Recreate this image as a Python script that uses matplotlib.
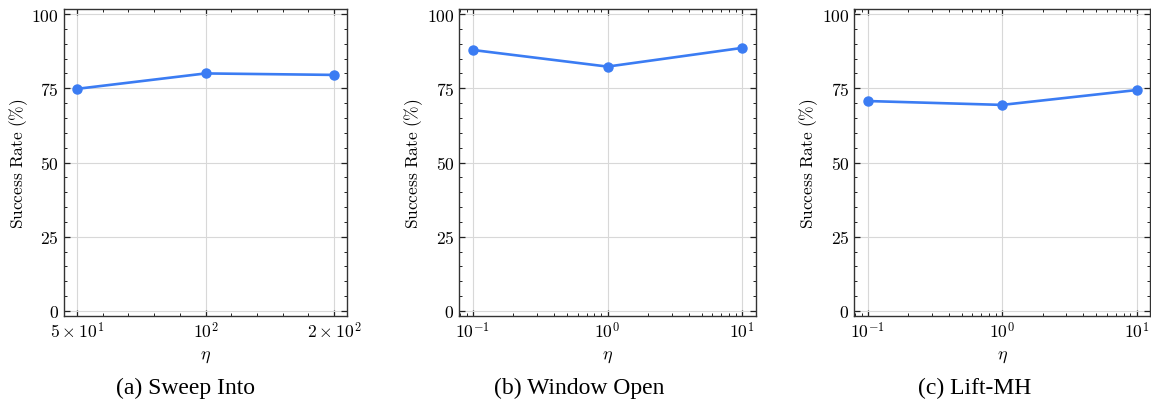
import numpy as np
import matplotlib
matplotlib.use("Agg")
import matplotlib.pyplot as plt
from matplotlib.ticker import FixedLocator, MultipleLocator, NullFormatter

plt.rcParams["mathtext.fontset"] = "cm"
plt.rcParams["font.family"] = "serif"
plt.rcParams["font.serif"] = ["Liberation Serif", "DejaVu Serif"]

# data
eta_a = [50, 100, 200]
sr_a = [74.8, 80.0, 79.5]
eta_b = [0.1, 1, 10]
sr_b = [87.9, 82.3, 88.6]
eta_c = [0.1, 1, 10]
sr_c = [70.7, 69.4, 74.4]

xticklabels_a = [r"$5\times10^{1}$", r"$10^{2}$", r"$2\times10^{2}$"]
xticklabels_bc = [r"$10^{-1}$", r"$10^{0}$", r"$10^{1}$"]
yticks = [0, 25, 50, 75, 100]
captions = ["(a) Sweep Into", "(b) Window Open", "(c) Lift-MH"]

color = "#3b7cf3"
W, H = 1151, 402
fig = plt.figure(figsize=(W / 100, H / 100), dpi=100)

# axes boxes in pixels: left, right, top, bottom
boxes = [(64, 347, 10, 317), (459.3, 755.7, 10, 317), (854.3, 1150, 10, 317)]
cap_x = [185, 579, 975]

panels = [(eta_a, sr_a, xticklabels_a), (eta_b, sr_b, xticklabels_bc), (eta_c, sr_c, xticklabels_bc)]

for i, (x, y, xtl) in enumerate(panels):
    l, r, t, b = boxes[i]
    ax = fig.add_axes([l / W, (H - b) / H, (r - l) / W, (b - t) / H])
    ax.plot(x, y, color=color, lw=1.9, marker="o", ms=6.5, zorder=3)
    ax.set_xscale("log")
    ax.set_xticks(x)
    ax.set_xticklabels(xtl)
    if i == 0:
        ax.xaxis.set_minor_locator(FixedLocator([50 * 2 ** (k / 5) for k in range(-1, 12) if k % 5]))
    ax.xaxis.set_minor_formatter(NullFormatter())
    ax.set_ylim(-1.7, 101.7)
    ax.set_yticks(yticks)
    ax.set_yticklabels([f"${v}$" for v in yticks])
    ax.yaxis.set_minor_locator(MultipleLocator(5))
    ax.grid(True, which="major", color="#d8d8d8", lw=0.8, zorder=0)
    ax.set_axisbelow(True)
    ax.tick_params(which="both", direction="in", top=True, right=True, labelsize=12.7, color="#222222")
    ax.tick_params(which="major", length=4, width=0.9)
    ax.tick_params(which="minor", length=2, width=0.7)
    for s in ax.spines.values():
        s.set_color("#333333")
        s.set_linewidth(1.0)
    ax.set_ylabel(r"$\mathrm{Success\ Rate\ (\%)}$", fontsize=12.5, labelpad=1)
    ax.set_xlabel(r"$\eta$", fontsize=13, labelpad=4)
    fig.text(cap_x[i] / W, 1 - 388 / H, captions[i], ha="center", va="center", fontsize=17)

fig.savefig("out.png", dpi=100)
